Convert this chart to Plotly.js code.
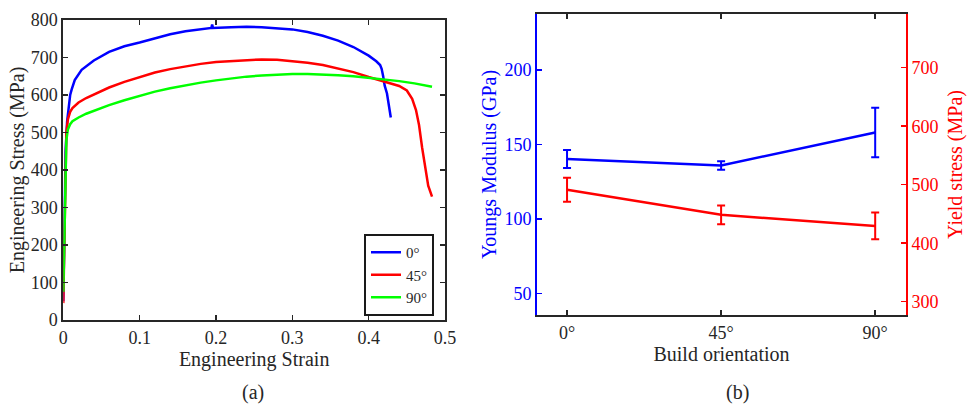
<!DOCTYPE html>
<html>
<head>
<meta charset="utf-8">
<script src="https://cdn.plot.ly/plotly-3.0.1.min.js"></script>
<style>html,body{margin:0;padding:0;background:#fff;}#chart{width:968px;height:405px;}</style>
</head>
<body>
<div id="chart"></div>
<script>
// ---- (a) engineering stress-strain curves ----
const strain0 = [0, 0.001, 0.002, 0.003, 0.005, 0.007, 0.009, 0.011, 0.015, 0.024, 0.04, 0.06, 0.08, 0.1, 0.12, 0.14, 0.16, 0.18, 0.194, 0.195, 0.196, 0.22, 0.24, 0.26, 0.28, 0.30, 0.32, 0.34, 0.36, 0.38, 0.40, 0.41, 0.415, 0.417, 0.419, 0.421, 0.424, 0.427, 0.429];
const stress0 = [50, 150, 300, 450, 530, 575, 600, 615, 640, 667, 692, 715, 730, 740, 752, 762, 770, 776, 779, 788, 779, 781, 782, 781, 779, 775, 768, 758, 745, 728, 705, 690, 680, 670, 650, 625, 604, 570, 540];

const strain45 = [0, 0.001, 0.002, 0.003, 0.004, 0.006, 0.009, 0.012, 0.02, 0.03, 0.045, 0.06, 0.08, 0.1, 0.12, 0.14, 0.16, 0.18, 0.2, 0.22, 0.24, 0.26, 0.28, 0.3, 0.32, 0.34, 0.36, 0.38, 0.4, 0.42, 0.44, 0.45, 0.457, 0.462, 0.466, 0.47, 0.474, 0.478, 0.483];
const stress45 = [45, 170, 300, 430, 500, 535, 555, 565, 580, 592, 607, 620, 635, 648, 660, 669, 677, 683, 688, 691, 694, 695, 694, 691, 686, 680, 671, 661, 648, 636, 624, 612, 590, 560, 520, 460, 405, 358, 329];

const strain90 = [0, 0.001, 0.002, 0.003, 0.004, 0.006, 0.009, 0.012, 0.02, 0.03, 0.045, 0.06, 0.08, 0.1, 0.12, 0.14, 0.16, 0.18, 0.2, 0.22, 0.24, 0.26, 0.28, 0.3, 0.32, 0.34, 0.36, 0.38, 0.4, 0.42, 0.44, 0.46, 0.483];
const stress90 = [75, 180, 300, 420, 480, 508, 522, 530, 540, 550, 562, 573, 586, 598, 609, 618, 626, 633, 639, 645, 649, 652, 655, 656, 656, 655, 653, 650, 646, 642, 637, 631, 622];

const seriesNames = ['0°', '45°', '90°'];

// ---- (b) properties vs build orientation ----
const orientations = ['0°', '45°', '90°'];
const youngsModulus = [140.2, 135.8, 158.0];
const youngsErr = [6.0, 2.8, 16.6];
const yieldStress = [491.5, 448.5, 429.5];
const yieldErr = [20.5, 16.0, 22.8];

const serif = '"Liberation Serif", "Times New Roman", "DejaVu Serif", serif';
const dark = '#262626';
const W = 968, H = 405;
const px = v => v / W;
const py = v => 1 - v / H;

const traces = [
  {x: strain0, y: stress0, name: seriesNames[0], type: 'scatter', mode: 'lines', line: {color: '#0000ff', width: 2.5}, xaxis: 'x', yaxis: 'y'},
  {x: strain45, y: stress45, name: seriesNames[1], type: 'scatter', mode: 'lines', line: {color: '#ff0000', width: 2.5}, xaxis: 'x', yaxis: 'y'},
  {x: strain90, y: stress90, name: seriesNames[2], type: 'scatter', mode: 'lines', line: {color: '#00ff00', width: 2.5}, xaxis: 'x', yaxis: 'y'},
  {x: [0, 1, 2], y: youngsModulus, name: 'Youngs Modulus', type: 'scatter', mode: 'lines', showlegend: false,
   line: {color: '#0000ff', width: 2.5}, error_y: {type: 'data', array: youngsErr, color: '#0000ff', thickness: 2, width: 4},
   xaxis: 'x2', yaxis: 'y2'},
  {x: [0, 1, 2], y: yieldStress, name: 'Yield stress', type: 'scatter', mode: 'lines', showlegend: false,
   line: {color: '#ff0000', width: 2.5}, error_y: {type: 'data', array: yieldErr, color: '#ff0000', thickness: 2, width: 4},
   xaxis: 'x2', yaxis: 'y3'}
];

const baseAxis = {
  showgrid: false, zeroline: false, showline: true, linewidth: 2,
  ticks: 'inside', ticklen: 5, tickwidth: 1.5,
  tickfont: {family: serif, size: 18, color: dark}
};

const layout = {
  width: W, height: H,
  margin: {l: 0, r: 0, t: 0, b: 0},
  paper_bgcolor: '#ffffff', plot_bgcolor: '#ffffff',
  font: {family: serif, size: 18, color: dark},
  showlegend: true,
  legend: {
    x: px(364), y: py(316), xanchor: 'left', yanchor: 'bottom',
    bgcolor: '#ffffff', bordercolor: '#1a1a1a', borderwidth: 2,
    font: {family: serif, size: 15, color: dark},
    tracegroupgap: 0, itemwidth: 30
  },
  xaxis: Object.assign({}, baseAxis, {
    domain: [px(63.3), px(445)], anchor: 'y',
    range: [0, 0.5], dtick: 0.1, tick0: 0, mirror: 'ticks',
    linecolor: dark, tickcolor: dark,
    title: {text: 'Engineering Strain', font: {family: serif, size: 20, color: dark}, standoff: 4}
  }),
  yaxis: Object.assign({}, baseAxis, {
    domain: [py(320), py(20)], anchor: 'x',
    range: [0, 800], dtick: 100, tick0: 0, mirror: 'ticks',
    linecolor: dark, tickcolor: dark,
    title: {text: 'Engineering Stress (MPa)', font: {family: serif, size: 20, color: dark}, standoff: 1}
  }),
  xaxis2: Object.assign({}, baseAxis, {
    domain: [px(537), px(906)], anchor: 'y2',
    range: [-0.195, 2.2], tickvals: [0, 1, 2], ticktext: orientations, mirror: 'ticks',
    linecolor: dark, tickcolor: dark,
    title: {text: 'Build orientation', font: {family: serif, size: 20, color: dark}, standoff: 4}
  }),
  yaxis2: Object.assign({}, baseAxis, {
    domain: [py(315), py(14)], anchor: 'x2',
    range: [35.4, 237.6], tickvals: [50, 100, 150, 200],
    linecolor: '#0000ff', tickcolor: '#0000ff',
    tickfont: {family: serif, size: 18, color: '#0000ff'},
    title: {text: 'Youngs Modulus (GPa)', font: {family: serif, size: 20, color: '#0000ff'}, standoff: 2}
  }),
  yaxis3: Object.assign({}, baseAxis, {
    overlaying: 'y2', side: 'right', anchor: 'x2',
    range: [277.3, 791.8], tickvals: [300, 400, 500, 600, 700],
    linecolor: '#ff0000', tickcolor: '#ff0000',
    tickfont: {family: serif, size: 18, color: '#ff0000'},
    title: {text: 'Yield stress (MPa)', font: {family: serif, size: 20, color: '#ff0000'}, standoff: 10}
  }),
  annotations: [
    {text: '(a)', xref: 'paper', yref: 'paper', x: px(253), y: py(392), showarrow: false,
     font: {family: serif, size: 20, color: dark}, xanchor: 'center', yanchor: 'middle'},
    {text: '(b)', xref: 'paper', yref: 'paper', x: px(737), y: py(392), showarrow: false,
     font: {family: serif, size: 20, color: dark}, xanchor: 'center', yanchor: 'middle'}
  ]
};

Plotly.newPlot('chart', traces, layout, {displayModeBar: false, staticPlot: true});
</script>
</body>
</html>
